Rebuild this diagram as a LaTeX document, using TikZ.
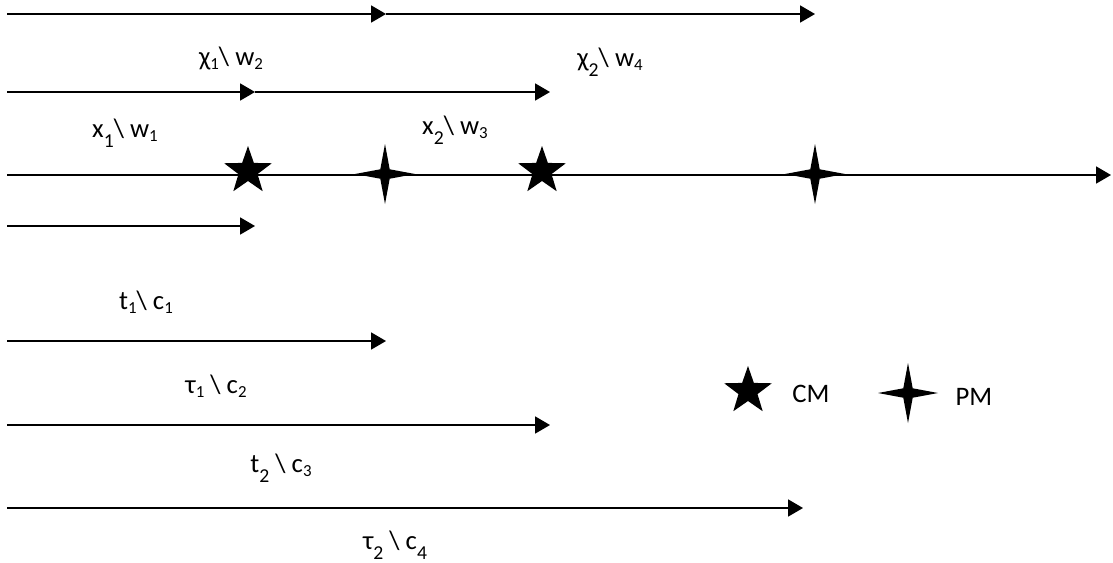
\documentclass[tikz,border=0pt]{standalone}
\usepackage{fontspec}
\setmainfont{Carlito}
\usetikzlibrary{arrows.meta}
\usetikzlibrary{shapes.geometric}

\newcommand{\smidx}[1]{\raisebox{-0.15em}{\fontsize{12}{12}\selectfont #1}}
\newcommand{\lowidx}[1]{\raisebox{-0.37em}{\fontsize{14}{14}\selectfont #1}}

\tikzset{
  seg/.style={line width=1pt, -{Triangle[length=10.5pt, width=12pt]}},
  lbl/.style={font=\fontsize{19}{23}\selectfont, inner sep=0pt},
  cmstar/.style={star, star points=5, star point ratio=2.5, fill=black, draw=none, inner sep=0pt, minimum size=1.25cm},
  pmstar/.style={star, star points=4, star point ratio=4.5, fill=black, draw=none, inner sep=0pt, minimum size=1.5cm}
}

\begin{document}
\begin{tikzpicture}[x=0.025cm, y=-0.025cm]
    \useasboundingbox (0,0) rectangle (1113,562);

    % end points of the windows
    \coordinate (a0) at (7,14);
    \coordinate (a1) at (386,14);
    \coordinate (a2) at (815,14);
    \coordinate (b0) at (7,92);
    \coordinate (b1) at (255,92);
    \coordinate (b2) at (550,92);
    \coordinate (m0) at (7,175);
    \coordinate (m1) at (1111,175);
    \coordinate (t0) at (7,226);
    \coordinate (t1) at (255,226);
    \coordinate (u0) at (7,341);
    \coordinate (u1) at (386,341);
    \coordinate (v0) at (7,425);
    \coordinate (v1) at (550,425);
    \coordinate (w0) at (7,508);
    \coordinate (w1) at (803,508);

    \draw [seg] (a0) -- (a1);
    \draw [seg] (a1) -- (a2);
    \draw [seg] (b0) -- (b1);
    \draw [seg] (b1) -- (b2);
    \draw [seg] (m0) -- (m1);
    \draw [seg] (t0) -- (t1);
    \draw [seg] (u0) -- (u1);
    \draw [seg] (v0) -- (v1);
    \draw [seg] (w0) -- (w1);

    \node [cmstar] (cm1) at (248,171) {};
    \node [pmstar] (pm1) at (385,174) {};
    \node [cmstar] (cm2) at (542,171) {};
    \node [pmstar] (pm2) at (815,174) {};

    \node [lbl] (chi1) at (231,58) {χ\smidx{1}\textbackslash{} w\smidx{2}};
    \node [lbl] (chi2) at (610,62) {χ\lowidx{2}\textbackslash{} w\smidx{4}};
    \node [lbl] (x1) at (125,133) {x\lowidx{1}\textbackslash{} w\smidx{1}};
    \node [lbl] (x2) at (455,130) {x\lowidx{2}\textbackslash{} w\smidx{3}};
    \node [lbl] (lt1) at (146,302) {t\smidx{1}\textbackslash{} c\smidx{1}};
    \node [lbl] (tau1) at (216,386) {τ\smidx{1} \textbackslash{} c\smidx{2}};
    \node [lbl] (lt2) at (281,468) {t\lowidx{2} \textbackslash{} c\smidx{3}};
    \node [lbl] (tau2) at (395,545) {τ\lowidx{2} \textbackslash{} c\lowidx{4}};

    % legend
    \node [cmstar] (keycm) at (748,391) {};
    \node [lbl] (cmtxt) at (811,394) {CM};
    \node [pmstar] (keypm) at (908,393) {};
    \node [lbl] (pmtxt) at (974,397) {PM};
\end{tikzpicture}
\end{document}
